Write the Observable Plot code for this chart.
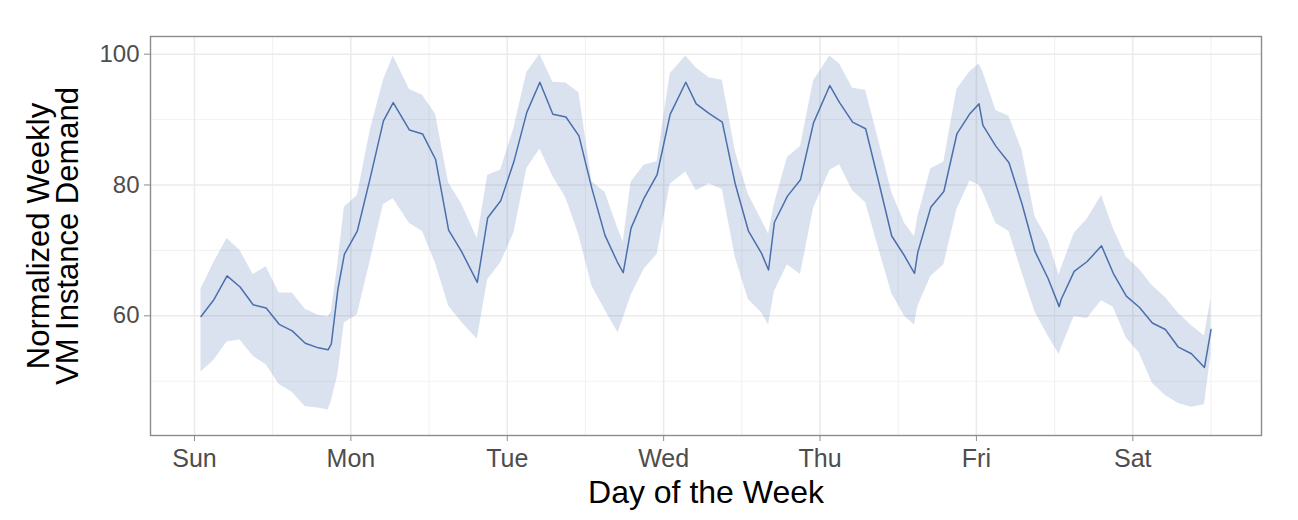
<!DOCTYPE html>
<html>
<head>
<meta charset="utf-8">
<script src="https://cdn.jsdelivr.net/npm/d3@7"></script>
<script src="https://cdn.jsdelivr.net/npm/@observablehq/plot@0.6"></script>
<style>
  html, body { margin: 0; padding: 0; background: #ffffff; }
  #chart { width: 1298px; height: 520px; }
</style>
</head>
<body>
<div id="chart"></div>
<script>
// Hour of the week (0 = Sunday 00:00)
const hours = [1,3,5,7,9,11,13,15,17,19,20.5,21,22,23,25,27,29,30.5,33,35,37,39,41,43.4,45,47,49,51,53,55,57,59,61,63,65,65.8,67,69,71,73,75.4,77,79,81,83,85,87,88.1,89,91,93,95,97.5,99,101,103,105,107,109,110.5,111,113,115,117,119,120.4,121,123,125,127,129,131,132.7,133,135,137,139.2,141,143,145,147,149,151,153,155,156];

// Mean normalized demand
const meanDemand = [59.9,62.5,66.1,64.4,61.7,61.2,58.7,57.7,55.8,55.1,54.8,55.7,64.0,69.4,73.0,81.2,89.8,92.6,88.4,87.8,83.9,73.1,69.8,65.1,75.0,77.6,83.5,91.1,95.7,90.8,90.4,87.5,79.4,72.3,68.0,66.6,73.4,78.0,81.6,90.8,95.7,92.4,90.9,89.6,80.1,73.0,69.6,67.0,74.3,78.3,80.8,89.5,95.2,92.6,89.6,88.6,80.5,72.2,69.1,66.5,69.7,76.6,79.0,87.8,90.9,92.4,89.1,85.9,83.4,77.1,69.8,65.7,61.4,62.5,66.8,68.3,70.7,66.5,63.0,61.3,58.9,57.9,55.2,54.2,52.1,57.9];

// Lower edge of band
const lowerBand = [51.4,53.2,56.0,56.3,53.8,52.5,49.5,48.3,46.1,45.9,45.6,46.9,51.0,58.9,60.2,68.5,77.0,77.9,74.1,72.9,68.0,61.5,59.0,56.4,65.5,68.1,72.6,82.5,85.5,81.3,78.0,72.3,64.5,60.9,57.4,59.6,63.1,67.1,69.4,80.1,82.0,79.1,80.2,79.3,68.9,62.5,60.5,58.6,63.7,67.8,66.3,76.4,82.2,83.1,79.1,77.3,70.3,63.4,59.9,58.6,61.4,66.0,67.8,76.2,80.6,80.0,78.9,74.1,72.9,66.6,60.6,56.9,54.1,55.0,59.9,59.6,62.3,61.3,56.6,54.3,49.7,47.8,46.6,46.0,46.4,54.1];

// Upper edge of band
const upperBand = [64.1,68.2,71.8,70.0,66.3,67.5,63.5,63.5,61.0,60.1,59.8,60.6,68.0,76.6,78.4,88.5,96.0,99.7,94.6,93.7,90.8,80.3,77.1,71.8,81.5,82.3,88.6,97.2,100.0,95.7,95.6,94.1,80.5,78.9,73.3,71.3,80.4,83.0,83.6,97.0,99.7,97.9,96.4,96.0,85.1,78.6,74.7,72.5,77.1,84.2,85.9,95.9,99.7,98.5,94.8,94.5,86.8,78.9,74.1,72.1,75.1,82.5,83.5,94.6,97.3,98.5,97.3,91.4,90.5,85.3,75.1,71.6,66.2,67.2,72.6,74.8,78.4,73.4,69.0,67.1,64.6,62.8,60.4,58.5,56.9,62.7];

const dayLabels = ["Sun","Mon","Tue","Wed","Thu","Fri","Sat"];
const dayTicks = [0,24,48,72,96,120,144];
const halfDayTicks = [12,36,60,84,108,132,156];
const yMajor = [60,80,100];
const yMinor = [50,70,90];

const data = hours.map((h, i) => ({h, mean: meanDemand[i], lo: lowerBand[i], hi: upperBand[i]}));
const lineColor = "#4a6fad";

const chart = Plot.plot({
  width: 1298,
  height: 520,
  marginLeft: 150,
  marginRight: 37,
  marginTop: 36,
  marginBottom: 85,
  style: {fontFamily: "'Liberation Sans', Arial, sans-serif", background: "#ffffff", overflow: "visible"},
  x: {domain: [-6.75, 163.75]},
  y: {domain: [41.7, 102.7]},
  marks: [
    Plot.ruleY(yMinor, {stroke: "#f2f2f2", strokeWidth: 1.1}),
    Plot.ruleX(halfDayTicks, {stroke: "#f2f2f2", strokeWidth: 1.1}),
    Plot.ruleY(yMajor, {stroke: "#ebebeb", strokeWidth: 1.5}),
    Plot.ruleX(dayTicks, {stroke: "#ebebeb", strokeWidth: 1.5}),
    Plot.areaY(data, {x: "h", y1: "lo", y2: "hi", fill: lineColor, fillOpacity: 0.2}),
    Plot.lineY(data, {x: "h", y: "mean", stroke: lineColor, strokeWidth: 1.5}),
    Plot.frame({stroke: "#8c8c8c", strokeWidth: 1.4}),
    Plot.axisX(dayTicks, {
      tickFormat: d => dayLabels[dayTicks.indexOf(d)],
      fontSize: 25, tickSize: 6, tickPadding: 8,
      stroke: "#8c8c8c", fill: "#4d4d4d", label: null
    }),
    Plot.axisY(yMajor, {
      fontSize: 24, tickSize: 6, tickPadding: 5,
      stroke: "#8c8c8c", fill: "#4d4d4d", label: null
    }),
    Plot.text(["Day of the Week"], {
      frameAnchor: "bottom", lineAnchor: "middle", textAnchor: "middle",
      dy: 57, fontSize: 32, fill: "#000000"
    }),
    Plot.text(["Normalized Weekly\nVM Instance Demand"], {
      frameAnchor: "left", lineAnchor: "middle", textAnchor: "middle",
      dx: -96, rotate: -90, fontSize: 31, lineHeight: 0.92, fill: "#000000"
    })
  ]
});
document.getElementById("chart").append(chart);
</script>
</body>
</html>
